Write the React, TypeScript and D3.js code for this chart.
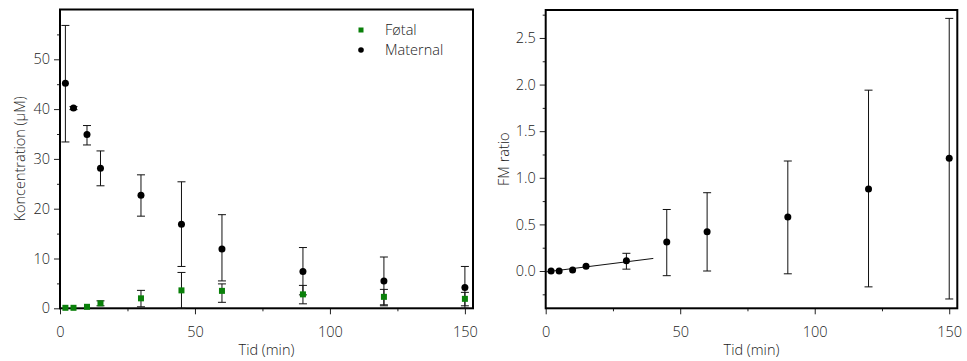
import React, { useEffect, useRef } from 'react';
import * as d3 from 'd3';

// sampling times (min)
const times = [2, 5, 10, 15, 30, 45, 60, 90, 120, 150];

// left panel: concentration (µM)
const maternalMean = [45.2, 40.2, 34.9, 28.1, 22.7, 16.9, 11.9, 7.4, 5.5, 4.2];
const maternalUpper = [56.8, 40.5, 36.7, 31.6, 26.8, 25.4, 18.8, 12.2, 10.3, 8.4];
const maternalLower = [33.4, 39.9, 32.8, 24.6, 18.5, 8.4, 5.5, 2.7, 0.5, 0.0];

const fetalMean = [0.1, 0.1, 0.3, 1.0, 2.0, 3.6, 3.5, 2.8, 2.3, 1.9];
const fetalUpper = [0.1, 0.1, 0.3, 1.5, 3.6, 7.2, 4.9, 4.6, 3.8, 3.2];
const fetalLower = [0.1, 0.1, 0.3, 0.5, 0.3, 0.0, 1.2, 0.9, 0.7, 0.5];

// right panel: FM ratio
const ratioMean = [0.0, 0.0, 0.01, 0.05, 0.11, 0.31, 0.42, 0.58, 0.88, 1.21];
const ratioUpper = [0.0, 0.0, 0.01, 0.05, 0.19, 0.66, 0.84, 1.18, 1.94, 2.71];
const ratioLower = [0.0, 0.0, 0.01, 0.05, 0.02, -0.05, 0.0, -0.03, -0.17, -0.3];

// linear fit over early points
const fitX = [0, 40];
const fitY = [-0.01, 0.135];

const xTicks = [0, 50, 100, 150];
const xMinor = [25, 75, 125];
const concTicks = [0, 10, 20, 30, 40, 50];
const concMinor = [5, 15, 25, 35, 45, 55];
const ratioTicks = [0, 0.5, 1, 1.5, 2, 2.5];
const ratioMinor = [-0.25, 0.25, 0.75, 1.25, 1.75, 2.25, 2.75];

const legendLabels = ['Føtal', 'Maternal'];

const FONT = '"Open Sans", sans-serif';
const GREEN = '#0a800a';

const App = () => {
  const ref = useRef<SVGSVGElement>(null);

  useEffect(() => {
    const svg = d3.select(ref.current);
    svg.selectAll('*').remove();

    const drawPanel = (
      left: number,
      right: number,
      top: number,
      bottom: number,
      yDomain: [number, number],
      yTicks: number[],
      yMinor: number[],
      yFmt: (d: number) => string,
      yLabel: string,
      yLabelX: number
    ) => {
      const x = d3.scaleLinear().domain([0, 153]).range([left, right]);
      const y = d3.scaleLinear().domain(yDomain).range([bottom, top]);
      const g = svg.append('g');

      // bottom axis
      const xa = g
        .append('g')
        .attr('transform', `translate(0,${bottom})`)
        .call(d3.axisBottom(x).tickValues(xTicks).tickSize(6).tickPadding(12).tickFormat(d3.format('d')));
      g.append('g')
        .attr('transform', `translate(0,${bottom})`)
        .call(d3.axisBottom(x).tickValues(xMinor).tickSize(3).tickFormat(() => ''));

      // left axis
      const ya = g
        .append('g')
        .attr('transform', `translate(${left},0)`)
        .call(d3.axisLeft(y).tickValues(yTicks).tickSize(6).tickPadding(4).tickFormat(yFmt as any));
      g.append('g')
        .attr('transform', `translate(${left},0)`)
        .call(d3.axisLeft(y).tickValues(yMinor).tickSize(3).tickFormat(() => ''));

      g.selectAll('.domain').remove();
      g.selectAll('.tick line').attr('stroke', '#222');
      [xa, ya].forEach((a) =>
        a.selectAll('text')
          .attr('font-family', FONT)
          .attr('font-size', 14.5)
          .attr('font-weight', 300)
          .attr('fill', '#222')
      );

      // frame
      g.append('rect')
        .attr('x', left)
        .attr('y', top)
        .attr('width', right - left)
        .attr('height', bottom - top)
        .attr('fill', 'none')
        .attr('stroke', '#000')
        .attr('stroke-width', 2);

      // axis titles
      g.append('text')
        .text('Tid (min)')
        .attr('x', (left + right) / 2)
        .attr('y', 355)
        .attr('text-anchor', 'middle')
        .attr('font-family', FONT)
        .attr('font-size', 14.5)
        .attr('font-weight', 300)
        .attr('fill', '#222');

      g.append('text')
        .text(yLabel)
        .attr('transform', `translate(${yLabelX},${(top + bottom) / 2}) rotate(-90)`)
        .attr('text-anchor', 'middle')
        .attr('font-family', FONT)
        .attr('font-size', 14.5)
        .attr('font-weight', 300)
        .attr('fill', '#222');

      return { g, x, y };
    };

    const errorBars = (
      g: any,
      x: any,
      y: any,
      upper: number[],
      lower: number[],
      color: string
    ) => {
      times.forEach((t, i) => {
        if (upper[i] === lower[i]) return;
        const cx = x(t);
        const y0 = y(Math.max(lower[i], y.domain()[0]));
        const y1 = y(upper[i]);
        g.append('line').attr('x1', cx).attr('x2', cx).attr('y1', y0).attr('y2', y1).attr('stroke', color).attr('stroke-width', 1);
        [y0, y1].forEach((yy) =>
          g.append('line').attr('x1', cx - 4).attr('x2', cx + 4).attr('y1', yy).attr('y2', yy).attr('stroke', color).attr('stroke-width', 1)
        );
      });
    };

    // left panel
    const L = drawPanel(60, 473, 9.5, 308.3, [0, 60], concTicks, concMinor, d3.format('d'), 'Koncentration (µM)', 25);
    errorBars(L.g, L.x, L.y, maternalUpper, maternalLower, '#111');
    errorBars(L.g, L.x, L.y, fetalUpper, fetalLower, '#111');
    L.g.selectAll('.mat')
      .data(times)
      .enter()
      .append('circle')
      .attr('cx', (d) => L.x(d))
      .attr('cy', (d, i) => L.y(maternalMean[i]))
      .attr('r', 3.5)
      .attr('fill', '#000');
    L.g.selectAll('.fet')
      .data(times)
      .enter()
      .append('rect')
      .attr('x', (d) => L.x(d) - 3)
      .attr('y', (d, i) => L.y(fetalMean[i]) - 3)
      .attr('width', 6)
      .attr('height', 6)
      .attr('fill', GREEN);

    // legend
    const legend = L.g
      .append('g')
      .selectAll('g')
      .data(legendLabels)
      .enter()
      .append('g')
      .attr('transform', (d, i) => `translate(361, ${30 + i * 20})`);
    legend
      .filter((d, i) => i === 0)
      .append('rect')
      .attr('x', -2.5)
      .attr('y', -2.5)
      .attr('width', 5)
      .attr('height', 5)
      .attr('fill', GREEN);
    legend
      .filter((d, i) => i === 1)
      .append('circle')
      .attr('r', 2.8)
      .attr('fill', '#000');
    legend
      .append('text')
      .text((d) => d)
      .attr('x', 24)
      .attr('y', 5)
      .attr('font-family', FONT)
      .attr('font-size', 14.5)
      .attr('font-weight', 300)
      .attr('fill', '#222');

    // right panel
    const R = drawPanel(545.7, 957.3, 10, 308.3, [-0.4, 2.8], ratioTicks, ratioMinor, d3.format('.1f'), 'FM ratio', 509);
    const line = d3
      .line<number>()
      .x((d) => R.x(d))
      .y((d, i) => R.y(fitY[i]));
    R.g.append('path').attr('d', line(fitX)).attr('fill', 'none').attr('stroke', '#111').attr('stroke-width', 1);
    errorBars(R.g, R.x, R.y, ratioUpper, ratioLower, '#111');
    R.g.selectAll('.ratio')
      .data(times)
      .enter()
      .append('circle')
      .attr('cx', (d) => R.x(d))
      .attr('cy', (d, i) => R.y(ratioMean[i]))
      .attr('r', 3.5)
      .attr('fill', '#000');
  }, []);

  return (
    <svg
      ref={ref}
      width={967}
      height={361}
      style={{ position: 'absolute', left: 0, top: 0, background: '#fff' }}
    />
  );
};

export default App;
